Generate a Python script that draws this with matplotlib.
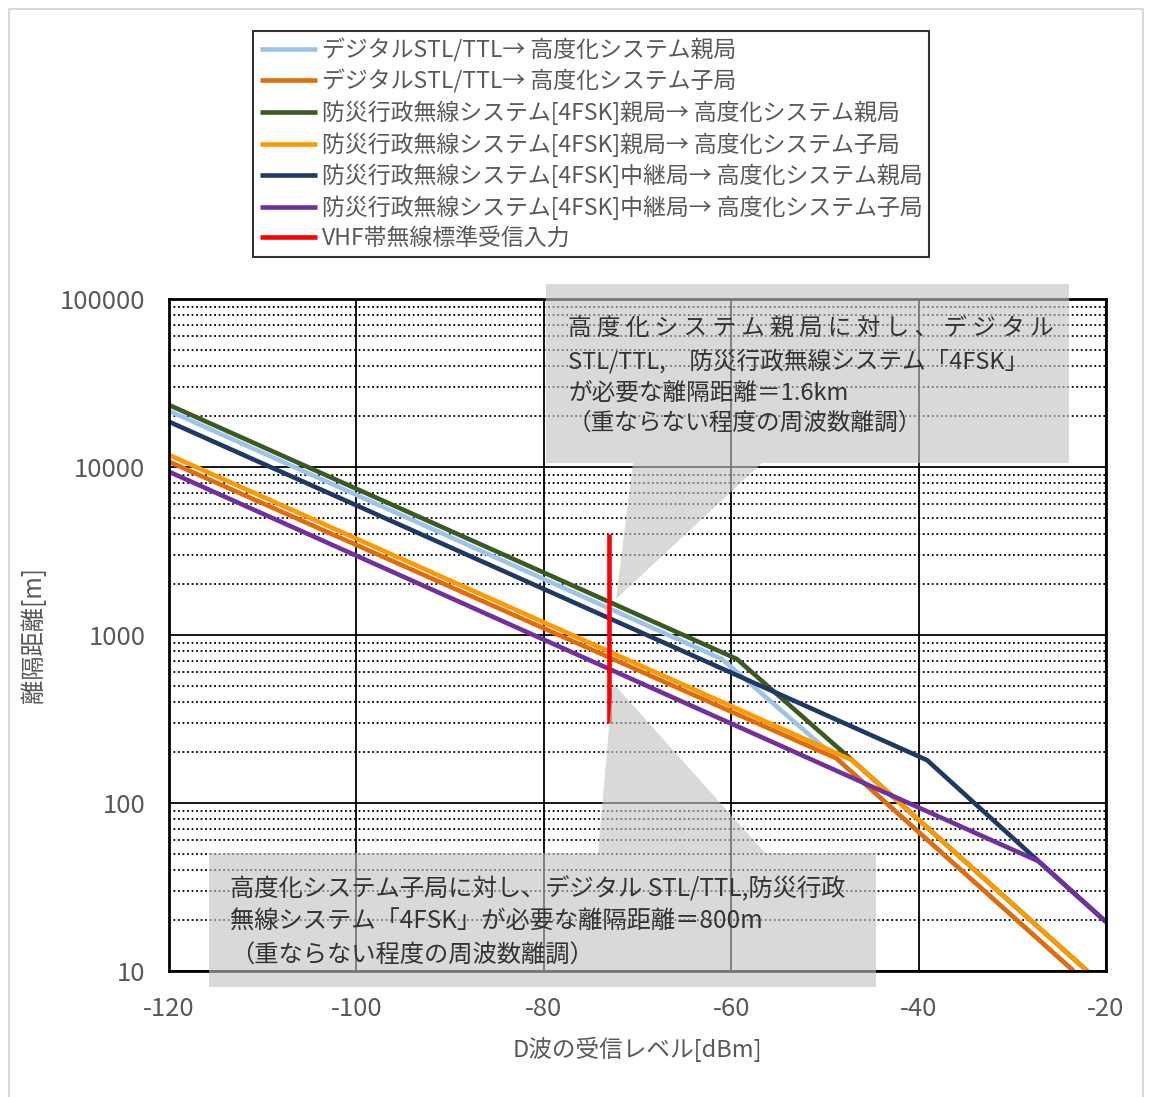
import matplotlib
matplotlib.use("Agg")
import matplotlib.pyplot as plt
from matplotlib.patches import Polygon, Rectangle
from matplotlib.ticker import FixedLocator, LogLocator, NullFormatter

plt.rcParams['font.family'] = ['Noto Sans CJK JP', 'DejaVu Sans']
plt.rcParams['axes.unicode_minus'] = False

W, H = 1151, 1097

# データ (受信レベル dBm, 離隔距離 m)
labels = [
    "デジタルSTL/TTL→ 高度化システム親局",
    "デジタルSTL/TTL→ 高度化システム子局",
    "防災行政無線システム[4FSK]親局→ 高度化システム親局",
    "防災行政無線システム[4FSK]親局→ 高度化システム子局",
    "防災行政無線システム[4FSK]中継局→ 高度化システム親局",
    "防災行政無線システム[4FSK]中継局→ 高度化システム子局",
    "VHF帯無線標準受信入力",
]
colors = ["#9dc3e6", "#e36c0a", "#3a5a22", "#ff9900", "#1f3864", "#7030a0", "#ff0000"]

stl_oya_x = [-120, -61.0, -48.75, -23.45]
stl_oya_y = [21600, 720, 184, 10]
stl_ko_x = [-120, -48.75, -23.45]
stl_ko_y = [10760, 184, 10]
fsk_oya_oya_x = [-120, -59.4, -47.1, -22.0]
fsk_oya_oya_y = [23400, 720, 180, 10]
fsk_oya_ko_x = [-120, -47.1, -22.0]
fsk_oya_ko_y = [11800, 180, 10]
fsk_chu_oya_x = [-120, -39.1, -27.2, -20]
fsk_chu_oya_y = [18600, 180, 45, 19.6]
fsk_chu_ko_x = [-120, -27.2, -20]
fsk_chu_ko_y = [9370, 45, 19.6]
vhf_x = [-73, -73]
vhf_y = [300, 4000]

series = [
    (stl_oya_x, stl_oya_y),
    (stl_ko_x, stl_ko_y),
    (fsk_oya_oya_x, fsk_oya_oya_y),
    (fsk_oya_ko_x, fsk_oya_ko_y),
    (fsk_chu_oya_x, fsk_chu_oya_y),
    (fsk_chu_ko_x, fsk_chu_ko_y),
    (vhf_x, vhf_y),
]

x_ticks = [-120, -100, -80, -60, -40, -20]
y_ticks = [10, 100, 1000, 10000, 100000]

# 吹き出しの文（均等割付の見た目に合わせて字間を空ける）
note_oya = ("高 度 化 シ ス テ ム 親 局 に 対 し 、 デ ジ タ ル\n"
            "STL/TTL,　防災行政無線システム「4FSK」\n"
            "が必要な離隔距離＝1.6km\n"
            "（重ならない程度の周波数離調）")
note_ko = ("高度化システム子局に対し、デジタル STL/TTL,防災行政\n"
           "無線システム「4FSK」が必要な離隔距離＝800m\n"
           "（重ならない程度の周波数離調）")


def px(x, y):
    return (x / W, 1 - y / H)


fig = plt.figure(figsize=(W / 100, H / 100), dpi=100)
ax = fig.add_axes([169 / W, 1 - 971 / H, (1106 - 169) / W, (971 - 299) / H])

for (xs, ys), c, lab in zip(series, colors, labels):
    ax.plot(xs, ys, color=c, lw=3.3, label=lab, solid_capstyle='butt')

ax.set_yscale('log')
ax.set_xlim(-120, -20)
ax.set_ylim(10, 100000)
ax.xaxis.set_major_locator(FixedLocator(x_ticks))
ax.yaxis.set_major_locator(FixedLocator(y_ticks))
ax.set_xticklabels([str(v) for v in x_ticks])
ax.set_yticklabels([str(v) for v in y_ticks])
ax.yaxis.set_minor_locator(LogLocator(base=10, subs=range(2, 10)))
ax.yaxis.set_minor_formatter(NullFormatter())
ax.grid(True, which='major', color='black', lw=1.3)
ax.grid(True, which='minor', axis='y', color='black', lw=1.3, ls=(0, (1, 1.5)))
ax.set_axisbelow(True)
for s in ax.spines.values():
    s.set_linewidth(2)
ax.tick_params(which='both', length=0, labelsize=18.5, labelcolor='#595959')
ax.tick_params(axis='x', pad=18)
ax.tick_params(axis='y', pad=17)

ax.set_xlabel("D波の受信レベル[dBm]", fontsize=17, color='#595959', labelpad=11)
ax.set_ylabel("離隔距離[m]", fontsize=17.5, color='#595959')
ax.yaxis.set_label_coords((47 - 169) / (1106 - 169), 0.5)

leg = ax.legend(loc='upper left', bbox_to_anchor=px(253, 31), bbox_transform=fig.transFigure,
                fontsize=16.5, frameon=True, fancybox=False, borderaxespad=0,
                handlelength=2.5, handletextpad=0.2, labelspacing=0.31,
                borderpad=0.3, labelcolor='#595959')
leg.get_frame().set_edgecolor('black')
leg.get_frame().set_linewidth(1.5)

# 吹き出し
oya_pts = [(546, 284), (1069, 284), (1069, 463), (762, 463), (616, 599), (633, 463), (546, 463)]
ko_pts = [(209, 853), (598, 853), (613, 683), (765, 853), (876, 853), (876, 987), (209, 987)]
for pts in (oya_pts, ko_pts):
    fig.patches.append(Polygon([px(*p) for p in pts], closed=True, transform=fig.transFigure,
                               facecolor='#c2c2c2', edgecolor='none', alpha=0.62, zorder=5))

fig.text(*px(568, 318), note_oya, fontsize=17, color='#333333', va='top',
         linespacing=1.41, zorder=6)
fig.text(*px(230, 876), note_ko, fontsize=17.5, color='#333333', va='top',
         linespacing=1.36, zorder=6)

# 外枠
fig.patches.append(Rectangle(px(9, 1110), (1143 - 9) / W, (1110 - 9) / H, transform=fig.transFigure,
                             fill=False, edgecolor='#d9d9d9', lw=1.5, zorder=0))

fig.savefig("out.png", dpi=100)
